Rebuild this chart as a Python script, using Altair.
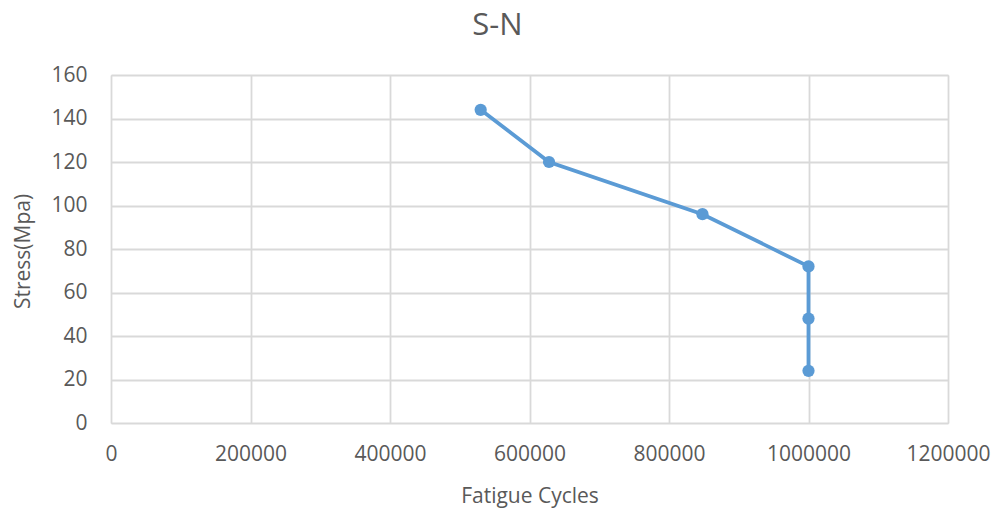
import altair as alt
import pandas as pd

cycles = [530000, 628000, 848000, 1000000, 1000000, 1000000]
stress = [144, 120, 96, 72, 48, 24]
order = [1, 2, 3, 4, 5, 6]

df = pd.DataFrame({"cycles": cycles, "stress": stress, "order": order})

FONT = "Open Sans"
TXT = "#595959"
GRID = "#d9d9d9"
BLUE = "#5b9bd5"

x = alt.X("cycles:Q",
          scale=alt.Scale(domain=[0, 1200000], nice=False, zero=True),
          axis=alt.Axis(title="Fatigue Cycles", values=[0, 200000, 400000, 600000, 800000, 1000000, 1200000],
                        format="d", grid=True, gridColor=GRID, gridWidth=1.8,
                        domain=False, ticks=False, tickSize=0,
                        labelFont=FONT, labelFontSize=21, labelColor=TXT,
                        labelBaseline="alphabetic", labelPadding=37, labelFlush=False,
                        titleFont=FONT, titleFontSize=21, titleColor=TXT, titleFontWeight="normal",
                        titleBaseline="alphabetic", titleX=418.5, titleY=79, titleAlign="center"))
y = alt.Y("stress:Q",
          scale=alt.Scale(domain=[0, 160], nice=False),
          axis=alt.Axis(title="Stress(Mpa)", values=[0, 20, 40, 60, 80, 100, 120, 140, 160],
                        grid=True, gridColor=GRID, gridWidth=1.8,
                        domain=False, ticks=False, tickSize=0,
                        labelFont=FONT, labelFontSize=21, labelColor=TXT,
                        labelPadding=24, labelBaseline="middle",
                        titleFont=FONT, titleFontSize=21, titleColor=TXT, titleFontWeight="normal",
                        titleAngle=270, titleBaseline="alphabetic", titleAlign="center",
                        titleX=-82, titleY=176))

line = alt.Chart(df).mark_line(color=BLUE, strokeWidth=3.8).encode(
    x=x, y=y, order="order:Q")
pts = alt.Chart(df).mark_point(color=BLUE, filled=True, size=150, opacity=1, shape="circle").encode(
    x=x, y=y)

chart = (line + pts).properties(
    width=837, height=348,
    title=alt.TitleParams("S-N", font=FONT, fontSize=31, color=TXT, fontWeight="normal",
                          anchor="middle", baseline="alphabetic", offset=28, dx=-32, dy=30),
    autosize=alt.AutoSizeParams(type="none"),
    padding={"left": 111, "top": 75, "right": 48, "bottom": 85},
).configure_view(stroke=None).configure(background="white")

chart.save("out.html", embed_options={"renderer": "svg", "actions": False})
